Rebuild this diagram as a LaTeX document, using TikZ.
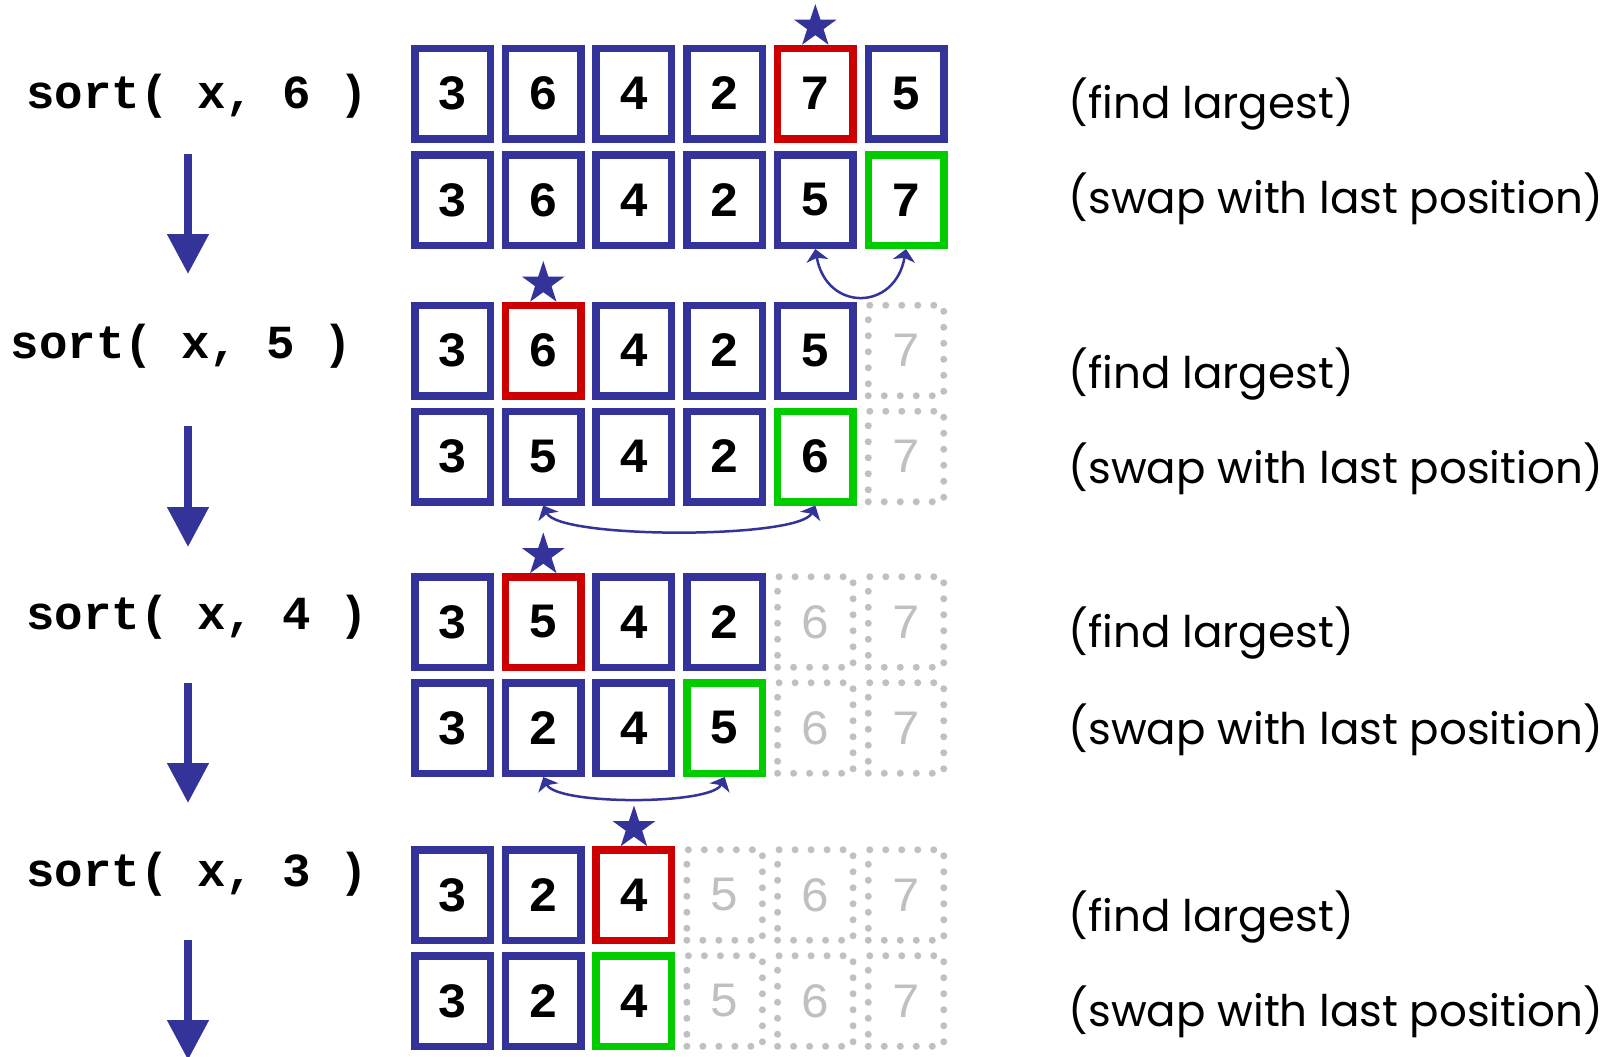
\documentclass[tikz,border=0pt]{standalone}
\usepackage{fontspec}
\setmonofont{Liberation Mono}
\newfontfamily\notefont{Poppins}
\usetikzlibrary{arrows.meta,shapes.geometric}

\definecolor{cellblue}{HTML}{333399}
\definecolor{cellred}{HTML}{CC0000}
\definecolor{cellgreen}{HTML}{00CC00}
\definecolor{ghost}{HTML}{C0C0C0}

\tikzset{
	cell/.style={draw=cellblue, line width=0.075cm, minimum width=0.755cm, minimum height=0.905cm,
		inner sep=0pt, font=\fontsize{14}{14}\selectfont\ttfamily\bfseries},
	maxcell/.style={cell, draw=cellred},
	lastcell/.style={cell, draw=cellgreen},
	freecell/.style={cell, draw=ghost, text=ghost, line width=0.07cm, line cap=round,
		dash pattern=on 0pt off 0.16cm, font=\fontsize{14}{14}\selectfont\ttfamily},
	call/.style={anchor=west, inner sep=0pt, font=\fontsize{13.5}{13.5}\selectfont\ttfamily\bfseries},
	note/.style={anchor=west, inner sep=0pt, font=\fontsize{12.4}{12.4}\selectfont\notefont},
	pick/.style={star, star points=5, star point ratio=2.6, fill=cellblue, draw=none,
		inner sep=0pt, minimum size=0.45cm},
	swaparc/.style={cellblue, line width=0.025cm,
		{Stealth[width=0.22cm,length=0.12cm,inset=0.03cm]}-{Stealth[width=0.22cm,length=0.12cm,inset=0.03cm]}},
	stepdown/.style={cellblue, line width=0.08cm, -{Triangle[width=0.40cm,length=0.40cm]}}
}

\begin{document}
\begin{tikzpicture}
		\useasboundingbox (0,0) rectangle (16.2,-10.56);
		\foreach \row/\y/\cells in {
				1/0.935/{3/cell,6/cell,4/cell,2/cell,7/maxcell,5/cell},
				2/2.000/{3/cell,6/cell,4/cell,2/cell,5/cell,7/lastcell},
				3/3.505/{3/cell,6/maxcell,4/cell,2/cell,5/cell,7/freecell},
				4/4.565/{3/cell,5/cell,4/cell,2/cell,6/lastcell,7/freecell},
				5/6.220/{3/cell,5/maxcell,4/cell,2/cell,6/freecell,7/freecell},
				6/7.280/{3/cell,2/cell,4/cell,5/lastcell,6/freecell,7/freecell},
				7/8.950/{3/cell,2/cell,4/maxcell,5/freecell,6/freecell,7/freecell},
				8/10.010/{3/cell,2/cell,4/lastcell,5/freecell,6/freecell,7/freecell}}
			\foreach \v/\kind [count=\c] in \cells
				\node[\kind] (r\row c\c) at ({4.526+0.9068*(\c-1)},-\y) {\v};
		\node[pick] (s1) at ([yshift=0.67cm]r1c5.center) {};
		\node[pick] (s3) at ([yshift=0.67cm]r3c2.center) {};
		\node[pick] (s5) at ([yshift=0.67cm]r5c2.center) {};
		\node[pick] (s7) at ([yshift=0.67cm]r7c3.center) {};
		\draw[swaparc] (r2c5.south) to[out=-80,in=-100,looseness=1.8] (r2c6.south);
		\draw[swaparc] (r4c2.south) to[out=-65,in=-115,looseness=0.35] (r4c5.south);
		\draw[swaparc] (r6c2.south) to[out=-65,in=-115,looseness=0.44] (r6c4.south);
		\node[call] (call6) at (0.255,-0.960) {sort( x, 6 )};
		\node[call] (call5) at (0.100,-3.465) {sort( x, 5 )};
		\node[call] (call4) at (0.255,-6.170) {sort( x, 4 )};
		\node[call] (call3) at (0.255,-8.740) {sort( x, 3 )};
		\coordinate (d1a) at (1.88,-1.54);
		\coordinate (d1b) at (1.88,-2.74);
		\coordinate (d2a) at (1.88,-4.26);
		\coordinate (d2b) at (1.88,-5.47);
		\coordinate (d3a) at (1.88,-6.83);
		\coordinate (d3b) at (1.88,-8.03);
		\coordinate (d4a) at (1.88,-9.40);
		\coordinate (d4b) at (1.88,-10.60);
		\draw[stepdown] (d1a) -- (d1b);
		\draw[stepdown] (d2a) -- (d2b);
		\draw[stepdown] (d3a) -- (d3b);
		\draw[stepdown] (d4a) -- (d4b);
		\foreach \k/\y in {1/1.040,3/3.740,5/6.335,7/9.170}
			\node[note] (find\k) at (10.68,-\y) {(find largest)};
		\foreach \k/\y in {2/1.985,4/4.690,6/7.295,8/10.120}
			\node[note] (swap\k) at (10.68,-\y) {(swap with last position)};
	\end{tikzpicture}
\end{document}
